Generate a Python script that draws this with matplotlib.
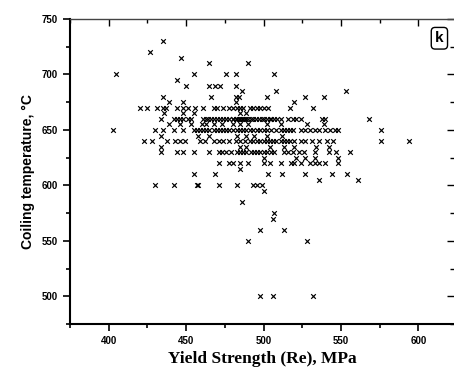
import numpy as np
import matplotlib
matplotlib.use('Agg')
import matplotlib.pyplot as plt
from matplotlib.ticker import MultipleLocator

# scattered points (yield strength MPa, coiling temperature C)
sparse_ys = [435, 427, 447, 465, 490,
             405, 455, 476, 482, 507,
             444,
             450, 465, 469, 472, 482,
             486, 508, 553,
             435, 466, 482, 484, 502, 527, 539,
             439, 448, 482, 520,
             485, 455, 469, 503, 512, 527, 544, 554,
             536, 561,
             430, 442, 457, 458, 471, 483, 493, 496, 499,
             500, 486, 507, 506, 498, 513, 490, 528,
             498, 506, 532]
sparse_ct = [730, 720, 715, 710, 710,
             700, 700, 700, 700, 700,
             695,
             690, 690, 690, 690, 690,
             685, 685, 685,
             680, 680, 680, 680, 680, 680, 680,
             675, 675, 675, 675,
             615, 610, 610, 610, 610, 610, 610, 610,
             605, 605,
             600, 600, 600, 600, 600, 600, 600, 600, 600,
             595, 585, 575, 570, 560, 560, 550, 550,
             500, 500, 500]

# rows with many samples at the same coiling temperature
ys_670 = [420, 425, 431, 435, 437, 444, 448, 451, 456, 461, 468, 470, 474, 478,
          480, 483, 485, 487, 491, 493, 496, 498, 500, 503, 517, 532]
ys_665 = [436, 448, 455, 485, 489]
ys_660 = [434, 442, 444, 446, 448, 451, 453, 461, 463, 464, 466, 468, 470, 472,
          474, 476, 478, 480, 480, 482, 483, 484, 485, 486, 487, 488, 489, 490,
          492, 493, 495, 497, 499, 500, 502, 504, 505, 507, 509, 511, 516, 519,
          521, 524, 538, 540, 568]
ys_655 = [439, 446, 453, 460, 463, 468, 473, 480, 485, 490, 502, 511, 528, 539]
ys_650 = [403, 430, 435, 442, 448, 455, 457, 459, 461, 463, 465, 468, 470, 472,
          474, 476, 478, 480, 483, 485, 487, 489, 491, 493, 496, 498, 500, 502,
          505, 508, 511, 513, 515, 517, 519, 524, 527, 530, 533, 536, 540, 543,
          546, 548, 576]
ys_645 = [434, 458, 465, 483, 489, 494, 502, 512]
ys_640 = [423, 428, 438, 443, 446, 449, 459, 462, 468, 471, 474, 478, 482, 485,
          488, 491, 493, 496, 498, 500, 502, 504, 506, 508, 511, 513, 515, 517,
          520, 524, 527, 531, 536, 541, 545, 576, 594]
ys_635 = [434, 485, 489, 504, 513, 520, 534, 542]
ys_630 = [434, 444, 448, 455, 465, 471, 473, 476, 479, 483, 485, 487, 489, 492,
          494, 496, 498, 500, 502, 505, 507, 513, 516, 519, 523, 526, 533, 542,
          547, 556]
ys_625 = [500, 521, 527, 533, 548]
ys_620 = [471, 478, 480, 485, 490, 500, 504, 511, 518, 520, 524, 530, 533, 536,
          540, 548]

rows = [(670, ys_670), (665, ys_665), (660, ys_660), (655, ys_655), (650, ys_650),
        (645, ys_645), (640, ys_640), (635, ys_635), (630, ys_630), (625, ys_625),
        (620, ys_620)]

x_ticks = [400, 450, 500, 550, 600]
y_ticks = [500, 550, 600, 650, 700, 750]

xs = list(sparse_ys)
ts = list(sparse_ct)
for temp, vals in rows:
    xs += vals
    ts += [temp] * len(vals)

fig = plt.figure(figsize=(4.54, 3.73), dpi=100)
ax = fig.add_axes([0.154, 0.131, 0.846, 0.818])
ax.scatter(xs, ts, marker='x', s=11, c='black', linewidths=0.85)

ax.set_xlim(375, 623)
ax.set_ylim(475, 750)
ax.set_xticks(x_ticks)
ax.set_yticks(y_ticks)
ax.xaxis.set_minor_locator(MultipleLocator(25))
ax.yaxis.set_minor_locator(MultipleLocator(25))

ax.spines['left'].set_linewidth(1.5)
ax.spines['bottom'].set_linewidth(1.5)
ax.spines['top'].set_linewidth(1.0)
ax.spines['top'].set_color('#444444')
ax.spines['right'].set_visible(False)

ax.tick_params(which='both', direction='out', width=1.2, top=False, right=False)
ax.tick_params(which='major', length=5)
ax.tick_params(which='minor', length=3)

# mirrored inward ticks on top and right
ax2 = ax.secondary_xaxis('top')
ax2.set_xticks(x_ticks)
ax2.xaxis.set_minor_locator(MultipleLocator(25))
ax2.tick_params(which='both', direction='in', labeltop=False, width=1.0)
ax2.tick_params(which='major', length=5)
ax2.tick_params(which='minor', length=3)
ax2.spines['top'].set_visible(False)
ay2 = ax.secondary_yaxis('right')
ay2.set_yticks(y_ticks)
ay2.yaxis.set_minor_locator(MultipleLocator(25))
ay2.tick_params(which='both', direction='in', labelright=False, width=1.0)
ay2.tick_params(which='major', length=5)
ay2.tick_params(which='minor', length=3)
ay2.spines['right'].set_visible(False)

for lab in ax.get_xticklabels() + ax.get_yticklabels():
    lab.set_fontfamily('Liberation Sans')
    lab.set_fontweight('bold')
    lab.set_fontsize(7)

ax.set_xlabel('Yield Strength (Re), MPa', family='Liberation Serif',
              fontweight='bold', fontsize=12.5, labelpad=4)
ax.set_ylabel('Coiling temperature, °C', family='Liberation Sans',
              fontweight='bold', fontsize=10, labelpad=5)

ax.text(0.962, 0.937, 'k', transform=ax.transAxes, ha='center', va='center',
        family='Liberation Sans', fontweight='bold', fontsize=11,
        bbox=dict(boxstyle='round,pad=0.25', fc='white', ec='black', lw=1.0))

fig.savefig('out.png', dpi=100)
